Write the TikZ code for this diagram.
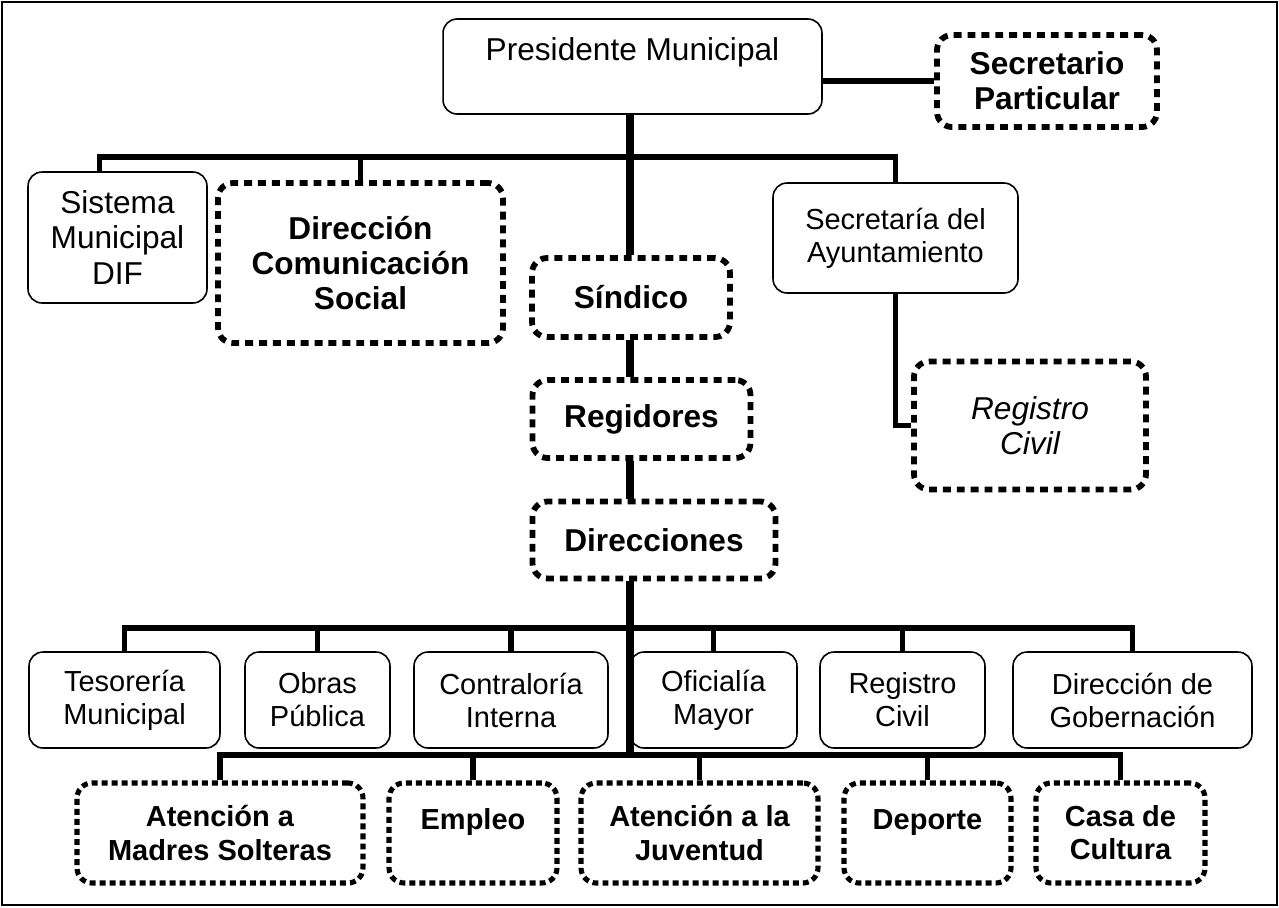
\documentclass[tikz,border=0pt]{standalone}
\usepackage{fontspec}
\setmainfont{Liberation Sans}

\newcommand{\bigfont}{\fontsize{18}{20}\selectfont}
\newcommand{\smallfont}{\fontsize{16.5}{18.8}\selectfont}

\tikzset{
  solidbox/.style = {draw = black,
      rounded corners = 0.28cm,
      line width = 0.9pt,
      align = center,
      inner sep = 0pt},
  dotbox/.style = {draw = black,
      rounded corners = 0.3cm,
      line width = 3.3pt,
      dash pattern = on 4.5pt off 3.4pt,
      align = center,
      inner sep = 0pt,
      font = \bigfont\bfseries},
  dotrow/.style = {dotbox,
      line width = 2.9pt,
      dash pattern = on 3.4pt off 2.3pt,
      font = \smallfont\bfseries},
  link/.style = {line width = 3.4pt},
  trunk/.style = {line width = 5pt},
}

\begin{document}
\begin{tikzpicture}[x = 0.02cm, y = -0.02cm]
\useasboundingbox (0,0) rectangle (1279,907);
\draw[line width = 1.2pt] (2,2) rectangle (1277,905);

% top level
\node[solidbox, font = \bigfont,
    minimum width = 7.58cm,
    minimum height = 1.90cm] (pres) at (632.5,66.5) {Presidente Municipal\\[-5.6pt] \strut};

\node[dotbox,
    minimum width = 4.40cm,
    minimum height = 1.84cm] (secp) at (1047,81) {Secretario\\Particular};

% second level
\node[solidbox, font = \bigfont,
    minimum width = 3.58cm,
    minimum height = 2.62cm] (dif) at (117.5,237.5) {Sistema\\Municipal\\DIF};

\node[dotbox,
    minimum width = 5.70cm,
    minimum height = 3.20cm] (dcs) at (360.5,263) {Dirección\\Comunicación\\Social};

\node[dotbox,
    minimum width = 3.96cm,
    minimum height = 1.58cm] (sind) at (631,297.5) {Síndico};

\node[solidbox, font = \smallfont,
    minimum width = 4.90cm,
    minimum height = 2.20cm] (secay) at (895.5,238) {Secretaría del\\Ayuntamiento};

\node[dotbox, font = \bigfont\itshape,
    minimum width = 4.64cm,
    minimum height = 2.56cm] (regc) at (1030,425.5) {Registro\\Civil};

\node[dotbox,
    minimum width = 4.36cm,
    minimum height = 1.56cm] (regi) at (641.5,419) {Regidores};

\node[dotbox,
    minimum width = 4.86cm,
    minimum height = 1.54cm] (dirs) at (654,540) {Direcciones};

% first row
\node[solidbox, font = \smallfont,
    minimum width = 3.82cm,
    minimum height = 1.92cm] (tes) at (124.5,700) {Tesorería\\Municipal};

\node[solidbox, font = \smallfont,
    minimum width = 2.90cm,
    minimum height = 1.92cm] (obr) at (317.5,700) {Obras\\Pública};

\node[solidbox, font = \smallfont,
    minimum width = 3.88cm,
    minimum height = 1.92cm] (con) at (511,700) {Contraloría\\Interna};

\node[solidbox, font = \smallfont,
    minimum width = 3.34cm,
    minimum height = 1.92cm] (ofi) at (713.5,700) {Oficialía\\Mayor};

\node[solidbox, font = \smallfont,
    minimum width = 3.30cm,
    minimum height = 1.92cm] (rgc) at (902.5,700) {Registro\\Civil};

\node[solidbox, font = \smallfont,
    minimum width = 4.78cm,
    minimum height = 1.92cm] (gob) at (1132.5,700) {Dirección de\\Gobernación};

% second row
\node[dotrow,
    minimum width = 5.72cm,
    minimum height = 2.00cm] (ams) at (220,833) {Atención a\\Madres Solteras};

\node[dotrow,
    minimum width = 3.36cm,
    minimum height = 2.00cm] (emp) at (473,833) {Empleo\\[-9pt] \strut};

\node[dotrow,
    minimum width = 4.74cm,
    minimum height = 2.00cm] (aju) at (699.5,833) {Atención a la\\Juventud};

\node[dotrow,
    minimum width = 3.34cm,
    minimum height = 2.00cm] (dep) at (927.5,833) {Deporte\\[-9pt] \strut};

\node[dotrow,
    minimum width = 3.38cm,
    minimum height = 2.00cm] (cdc) at (1120.5,833) {Casa de\\Cultura};

% connectors
\coordinate (hub1) at (630,157);
\coordinate (hub2) at (630,628);
\coordinate (hub3) at (630,755);

\draw[trunk] (pres.south -| hub1) -- (sind.north -| hub1);
\draw[trunk] (sind.south -| hub1) -- (regi.north -| hub1);
\draw[trunk] (regi.south -| hub1) -- (dirs.north -| hub1);
\draw[trunk] (dirs.south -| hub1) -- (hub3);

\draw[link] (secp.west) -- (secp.west -| pres.east);
\draw[link] ([xshift = -0.36cm]dif.north) |- (hub1) -| (secay.north);
\draw[link] (dcs.north) -- (dcs.north |- hub1);
\draw[link] (secay.south) |- (regc.west);

\draw[link] (tes.north) |- (hub2) -| (gob.north);
\foreach \n in {obr,con,ofi,rgc}
  \draw[link] (\n.north) -- (\n.north |- hub2);

\draw[link] (ams.north) |- (hub3) -| (cdc.north);
\foreach \n in {emp,aju,dep}
  \draw[link] (\n.north) -- (\n.north |- hub3);

\end{tikzpicture}
\end{document}
